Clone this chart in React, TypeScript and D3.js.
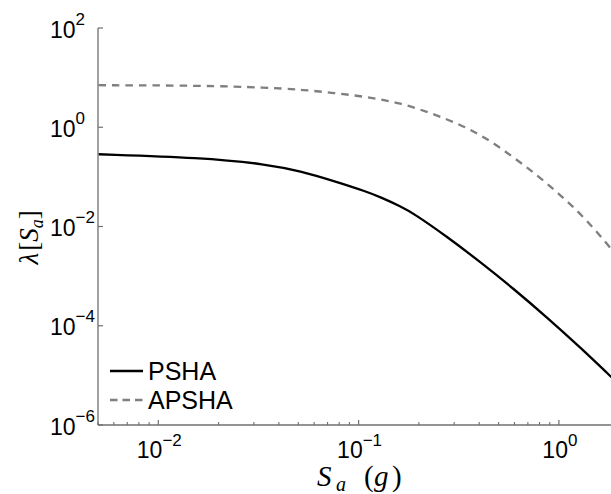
import React from "react";
import * as d3 from "d3";

const saPSHA = [0.00503, 0.01626, 0.035, 0.0513, 0.075, 0.111, 0.1288, 0.162, 0.188, 0.278, 0.406, 0.595, 0.879, 1.283, 1.83];
const lamPSHA = [0.286, 0.245, 0.18, 0.13, 0.083, 0.0496, 0.0388, 0.0255, 0.01845, 0.00614, 0.00191, 5.55e-4, 1.43e-4, 3.6e-5, 9.2e-6];

const saAPSHA = [0.00503, 0.01626, 0.035, 0.0513, 0.075, 0.111, 0.162, 0.233, 0.323, 0.43, 0.585, 0.78, 1.02, 1.309, 1.711, 1.83];
const lamAPSHA = [7.03, 6.93, 6.31, 5.75, 4.92, 4.08, 3.09, 1.89, 1.13, 0.62, 0.26, 0.1077, 0.0426, 0.0168, 0.00487, 0.00347];

const xTickExps = [-2, -1, 0];
const yTickExps = [2, 0, -2, -4, -6];
const legendLabels = ["PSHA", "APSHA"];

const W = 611;
const H = 494;
const left = 98;
const bottom = 425;
const top = 28;

export default function App() {
  const x = d3.scaleLog().domain([0.005, 2]).range([left, left + 200.3 * Math.log10(400)]);
  const y = d3.scaleLog().domain([1e-6, 1e2]).range([bottom, top]);

  const line = d3
    .line<[number, number]>()
    .x((d) => x(d[0]))
    .y((d) => y(d[1]))
    .curve(d3.curveBasis);

  const psha = line(saPSHA.map((s, i) => [s, lamPSHA[i]]))!;
  const apsha = line(saAPSHA.map((s, i) => [s, lamAPSHA[i]]))!;

  const minorX: number[] = [];
  for (let e = -3; e <= 0; e++) {
    for (let m = 2; m <= 9; m++) {
      const v = m * Math.pow(10, e);
      if (v >= 0.005 && v <= 2) minorX.push(v);
    }
  }

  const axisColor = "#6f6f6f";
  const sans = "'Liberation Sans', Arial, Helvetica, sans-serif";
  const serif = "'Liberation Serif', 'Times New Roman', serif";
  const gray = "#7f7f7f";

  return (
    <svg
      width={W}
      height={H}
      style={{ position: "absolute", left: 0, top: 0, background: "#fff" }}
    >
      <rect x={0} y={0} width={W} height={H} fill="#fff" />
      {/* curves */}
      <path d={apsha} fill="none" stroke={gray} strokeWidth={2.3} strokeDasharray="7.5,6" />
      <path d={psha} fill="none" stroke="#000" strokeWidth={2.3} />

      {/* axes */}
      <line x1={left} y1={top} x2={left} y2={bottom} stroke={axisColor} strokeWidth={1.3} />
      <line x1={left} y1={bottom} x2={W} y2={bottom} stroke={axisColor} strokeWidth={1.3} />

      {yTickExps.map((e) => (
        <g key={"y" + e}>
          <line x1={left} x2={left + 5} y1={y(Math.pow(10, e))} y2={y(Math.pow(10, e))} stroke={axisColor} strokeWidth={1.2} />
          <text x={50} y={y(Math.pow(10, e)) + 9.5} fontFamily={sans} fontSize={23} fill="#000">
            10
            <tspan dy={-13} fontSize={17}>{e < 0 ? "\u2212" + Math.abs(e) : String(e)}</tspan>
          </text>
        </g>
      ))}

      {xTickExps.map((e) => (
        <g key={"x" + e}>
          <line x1={x(Math.pow(10, e))} x2={x(Math.pow(10, e))} y1={bottom} y2={bottom - 5} stroke={axisColor} strokeWidth={1.2} />
          <text x={x(Math.pow(10, e)) + 1} y={bottom + 33} fontFamily={sans} fontSize={23} textAnchor="middle" fill="#000">
            10
            <tspan dy={-12} fontSize={17}>{e < 0 ? "\u2212" + Math.abs(e) : String(e)}</tspan>
          </text>
        </g>
      ))}
      {minorX.map((v, i) => (
        <line key={"m" + i} x1={x(v)} x2={x(v)} y1={bottom} y2={bottom - 3} stroke={axisColor} strokeWidth={1.1} />
      ))}

      {/* x label */}
      <text y={486} fontFamily={serif} fontSize={29} fill="#000">
        <tspan x={317} fontStyle="italic">S</tspan>
        <tspan x={336} fontStyle="italic" fontSize={20} dy={5}>a</tspan>
        <tspan x={364} dy={-5}>(</tspan>
        <tspan x={374} fontStyle="italic">g</tspan>
        <tspan x={392}>)</tspan>
      </text>

      {/* y label */}
      <text
        transform={`translate(38, ${(top + bottom) / 2 + 38}) rotate(-90)`}
        fontFamily={serif}
        fontSize={27}
        fill="#000"
      >
        <tspan fontStyle="italic">λ</tspan>
        <tspan dx={2}>[</tspan>
        <tspan fontStyle="italic">S</tspan>
        <tspan fontStyle="italic" fontSize={18} dy={5}>a</tspan>
        <tspan dy={-5}>]</tspan>
      </text>

      {/* legend */}
      <line x1={110} x2={143} y1={371} y2={371} stroke="#000" strokeWidth={2.3} />
      <text x={148} y={380} fontFamily={sans} fontSize={25} fill="#000">{legendLabels[0]}</text>
      <line x1={110} x2={143} y1={400} y2={400} stroke={gray} strokeWidth={2.3} strokeDasharray="7.5,5" />
      <text x={148} y={409} fontFamily={sans} fontSize={25} fill="#000">{legendLabels[1]}</text>
    </svg>
  );
}
